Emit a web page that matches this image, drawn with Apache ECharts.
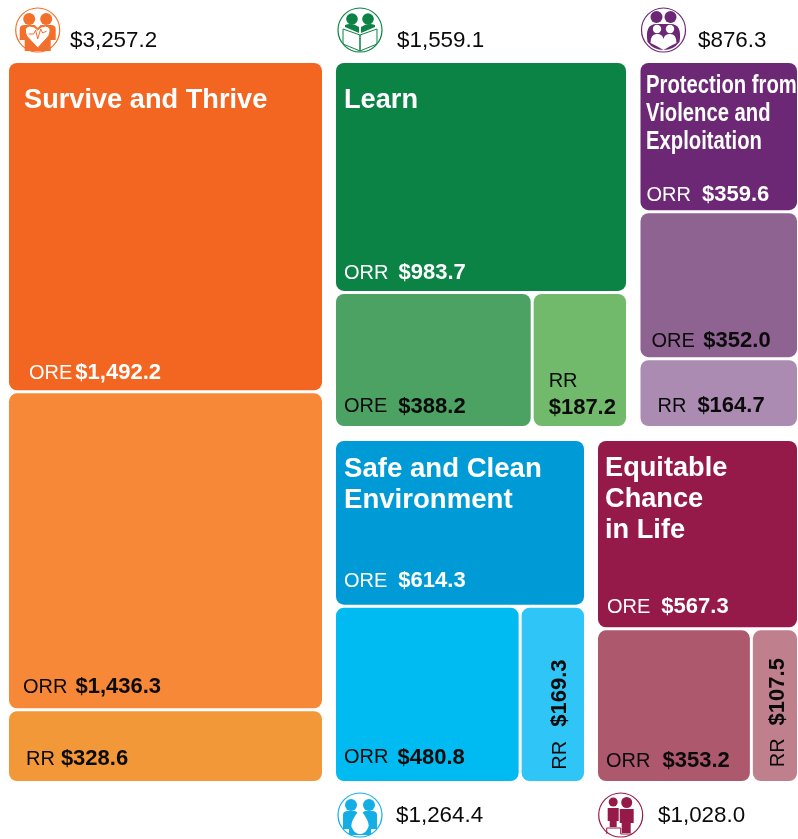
<!DOCTYPE html>
<html>
<head>
<meta charset="utf-8">
<style>
  html, body { margin: 0; padding: 0; background: #fff; }
  #main { width: 798px; height: 839px; }
</style>
<script src="https://cdn.jsdelivr.net/npm/echarts@6/dist/echarts.min.js"></script>
</head>
<body>
<div id="main"></div>
<script>
  // millions of dollars
  const surviveNames = ['ORE', 'ORR', 'RR'];
  const surviveValues = [1492.2, 1436.3, 328.6];
  const learnNames = ['ORR', 'ORE', 'RR'];
  const learnValues = [983.7, 388.2, 187.2];
  const protectionNames = ['ORR', 'ORE', 'RR'];
  const protectionValues = [359.6, 352.0, 164.7];
  const safeNames = ['ORE', 'ORR', 'RR'];
  const safeValues = [614.3, 480.8, 169.3];
  const equitableNames = ['ORE', 'ORR', 'RR'];
  const equitableValues = [567.3, 353.2, 107.5];
  const totals = ['$3,257.2', '$1,559.1', '$876.3', '$1,264.4', '$1,028.0'];

  const font = '"Liberation Sans", Arial, sans-serif';
  const money = v => '$' + v.toLocaleString('en-US', {minimumFractionDigits: 1, maximumFractionDigits: 1});

  // one small treemap per goal area, squarify gives the same splits as the original
  function goal(box, names, values, colors, labelColors, places) {
    return {
      type: 'treemap',
      left: box[0], top: box[1], width: box[2], height: box[3],
      roam: false,
      nodeClick: false,
      breadcrumb: {show: false},
      silent: true,
      animation: false,
      squareRatio: 1,
      itemStyle: {gapWidth: 3, borderWidth: 0, borderRadius: 8},
      levels: [{itemStyle: {gapWidth: 3, borderWidth: 0}}],
      data: names.map((n, i) => ({
        name: n,
        value: values[i],
        itemStyle: {color: colors[i], borderRadius: 8},
        label: {
          show: true,
          position: 'insideTopLeft',
          distance: 0,
          overflow: 'none',
          padding: places[i].padding || 0,
          rotate: places[i].rotate || 0,
          offset: places[i].offset || [0, 0],
          formatter: '{a|' + n + '}' + (places[i].sep || '') + '{b|' + money(values[i]) + '}',
          rich: {
            a: {fontFamily: font, fontSize: 20, color: labelColors[i], lineHeight: places[i].line, padding: [0, places[i].gap == null ? 10 : places[i].gap, 0, 0]},
            b: {fontFamily: font, fontSize: 22, fontWeight: 'bold', color: labelColors[i], lineHeight: places[i].line}
          }
        }
      }))
    };
  }

  const W = '#ffffff', K = '#0b0b0b';

  // offset of a rotated label is measured along the rotated text, so x runs upwards
  const series = [
    goal([9, 63, 313, 718], surviveNames, surviveValues,
      ['#f36621', '#f68837', '#f39838'], [W, K, K],
      [{padding: [299, 0, 0, 20], gap: 3}, {padding: [283, 0, 0, 14], gap: 8}, {padding: [37, 0, 0, 17], gap: 6}]),
    goal([336, 63, 290, 363], learnNames, learnValues,
      ['#0a8345', '#4ba262', '#71ba6b'], [W, K, K],
      [{padding: [199, 0, 0, 8], gap: 10}, {padding: [102, 0, 0, 8], gap: 11}, {padding: [74, 0, 0, 15], sep: '\n', gap: 0, line: 27}]),
    goal([640.5, 63, 156.5, 363], protectionNames, protectionValues,
      ['#6c2875', '#8e6291', '#ab8bb2'], [W, K, K],
      [{padding: [121, 0, 0, 6], gap: 11}, {padding: [117, 0, 0, 11], gap: 8.5}, {padding: [35, 0, 0, 17], gap: 11}]),
    goal([336, 441, 248, 340], safeNames, safeValues,
      ['#009bd7', '#00bbf2', '#2fc5f6'], [W, K, K],
      [{padding: [129, 0, 0, 8], gap: 11}, {padding: [139, 0, 0, 8], gap: 9}, {rotate: 90, offset: [-162, 27.5], gap: 14}]),
    goal([598, 441, 199, 340], equitableNames, equitableValues,
      ['#961a49', '#ad586c', '#c07f8c'], [W, K, K],
      [{padding: [155, 0, 0, 9], gap: 11}, {padding: [120, 0, 0, 8], gap: 12}, {rotate: 90, offset: [-137, 14.5], gap: 13}])
  ];

  // the graphic component has no 'path' type, so each pictogram path becomes a registered shape
  let shapeCount = 0;
  function pathType(d) {
    const name = 'iconPath' + (shapeCount++);
    echarts.graphic.registerShape(name, echarts.graphic.extendPath(d, {}));
    return name;
  }

  // hand drawn pictograms, local coordinates around the circle centre
  function icon(cx, cy, color, parts) {
    const children = [{type: 'circle', shape: {cx: 0, cy: 0, r: 22}, style: {fill: '#fff', stroke: color, lineWidth: 1.2}}];
    parts.forEach(p => {
      if (p.c) children.push({type: 'circle', shape: {cx: p.c[0], cy: p.c[1], r: p.c[2]}, style: {fill: p.fill || color}});
      else children.push({type: pathType(p.d), style: {fill: p.fill || color, stroke: p.stroke || null, lineWidth: p.lw || 1}});
    });
    return {type: 'group', x: cx, y: cy, z: 100, children};
  }

  function text(x, y, str, size, fill, weight, line, scaleX) {
    return {type: 'text', x, y, scaleX: scaleX || 1, z: 100, style: {text: str, fontSize: size, fill, fontWeight: weight || 'normal', fontFamily: font, lineHeight: line || size * 1.1}};
  }

  const orange = '#f36f2c', green = '#0a8345', purple = '#6c2875', blue = '#13aee6', crimson = '#961a49';

  const graphics = [
    icon(37.7, 30, orange, [
      {c: [-8.5, -11, 6]}, {c: [8.5, -11, 6]},
      {d: 'M-18 10L-18 -1Q-18 -5 -13 -5L-3 -5L0 -2L3 -5L13 -5Q18 -5 18 -1L18 10L13 10L13 21L-13 21L-13 10Z'},
      {d: 'M0 18L-11 6Q-15 -3 -8 -4Q-3 -4 0 0Q3 -4 8 -4Q15 -3 11 6Z', fill: '#fff', stroke: orange, lw: 1},
      {d: 'M-9 4L-4 4L-2 0L0 9L3 -1L5 3L9 1', fill: 'none', stroke: orange, lw: 1}
    ]),
    icon(360, 30, green, [
      {c: [-8, -11, 5.8]}, {c: [8, -11, 5.8]},
      {d: 'M-15 -5Q-8 -8 -1 -3L-1 3L-15 -3Z'},
      {d: 'M15 -5Q8 -8 1 -3L1 3L15 -3Z'},
      {d: 'M-17 -1L-17 14L0 21L0 5ZM17 -1L17 14L0 21L0 5Z', fill: 'none', stroke: green, lw: 1}
    ]),
    icon(663.5, 30, purple, [
      {c: [-7, -13, 6]}, {c: [7, -13, 6]},
      {d: 'M-16 12Q-19 -6 -7 -6L7 -6Q19 -6 16 12Q10 20 0 20Q-10 20 -16 12Z'},
      {c: [-6.5, -1, 4.2], fill: '#fff'}, {c: [6.5, -1, 4.2], fill: '#fff'},
      {d: 'M-13 13Q-13 4 -6.5 4Q-1 4 0 9Q1 4 6.5 4Q13 4 13 13L7 16L0 20L-7 16Z', fill: '#fff'}
    ]),
    icon(360, 815, blue, [
      {c: [-9, -10, 6]}, {c: [9, -10, 6]},
      {d: 'M-17 14L-17 0Q-17 -4 -12 -4L-5 -4L0 -1L5 -4L12 -4Q17 -4 17 0L17 14L11 14L11 20L-11 20L-11 14Z'},
      {d: 'M0 -6Q11 8 8 13Q5 19 0 19Q-5 19 -8 13Q-11 8 0 -6Z', fill: '#fff'}
    ]),
    icon(620.7, 815, crimson, [
      {c: [-7.5, -13, 4.5]}, {c: [6, -12.5, 5.5]},
      {d: 'M-13 -7L-2 -7L-2 6L-4 6L-4 12L-11 12L-11 6L-13 6Z'},
      {d: 'M-1 -6L13 -6L13 8L10 8L10 18L1 18L1 8L-1 8Z'},
      {d: 'M-14 19L-14 13L0 13L0 19M0 19L11 19', fill: 'none', stroke: crimson, lw: 1}
    ]),
    text(70, 29, totals[0], 22.4, K),
    text(397, 29, totals[1], 22.4, K),
    text(698, 29, totals[2], 22.4, K),
    text(396, 804, totals[3], 22.4, K),
    text(658, 804, totals[4], 22.4, K),
    text(24, 86, 'Survive and Thrive', 27.2, W, 'bold'),
    text(344, 86, 'Learn', 27.2, W, 'bold'),
    text(646, 72, 'Protection from\nViolence and\nExploitation', 25, W, 'bold', 28, 0.81),
    text(344, 454, 'Safe and Clean\nEnvironment', 27.6, W, 'bold', 31),
    text(605, 453.5, 'Equitable\nChance\nin Life', 27.2, W, 'bold', 31)
  ];

  const chart = echarts.init(document.getElementById('main'), null, {renderer: 'canvas'});
  chart.setOption({animation: false, series, graphic: graphics});
</script>
</body>
</html>
